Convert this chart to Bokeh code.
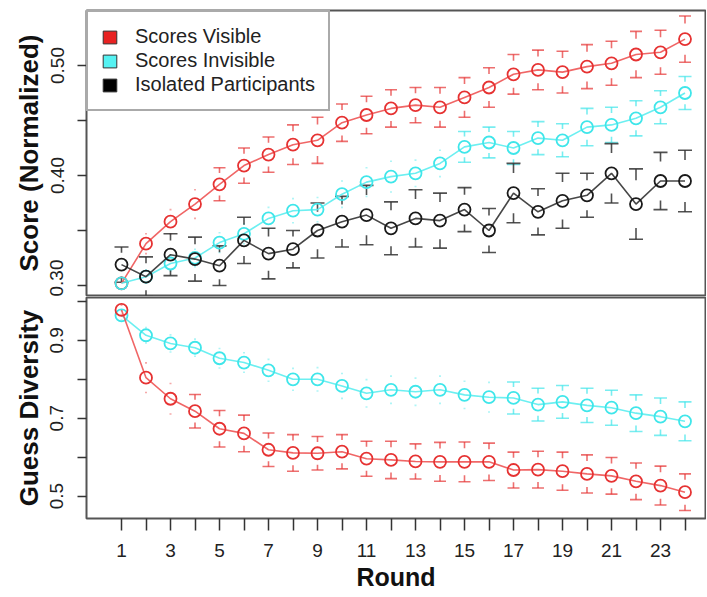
import math
from bokeh.plotting import figure
from bokeh.models import FixedTicker, Legend, LegendItem, Range1d
from bokeh.layouts import column
from bokeh.embed import file_html
from bokeh.resources import INLINE

# ---------------- data ----------------
rounds = list(range(1, 25))

score_visible = [0.302, 0.338, 0.358, 0.374, 0.392, 0.409, 0.419, 0.428, 0.432, 0.448, 0.455, 0.461,
                 0.464, 0.462, 0.471, 0.480, 0.492, 0.496, 0.494, 0.499, 0.502, 0.510, 0.512, 0.524]
score_visible_se = [0.005, 0.009, 0.011, 0.013, 0.015, 0.016, 0.016, 0.018, 0.021, 0.017, 0.017, 0.017,
                    0.016, 0.018, 0.018, 0.018, 0.018, 0.018, 0.019, 0.020, 0.020, 0.021, 0.020, 0.021]

score_invisible = [0.302, 0.308, 0.320, 0.325, 0.339, 0.347, 0.361, 0.368, 0.369, 0.383, 0.394, 0.399,
                   0.402, 0.411, 0.426, 0.430, 0.425, 0.434, 0.432, 0.444, 0.446, 0.452, 0.462, 0.475]
score_invisible_se = [0.005, 0.006, 0.007, 0.008, 0.009, 0.009, 0.010, 0.011, 0.011, 0.012, 0.013, 0.014,
                      0.012, 0.012, 0.014, 0.014, 0.015, 0.015, 0.015, 0.017, 0.016, 0.016, 0.015, 0.015]

score_isolated = [0.319, 0.308, 0.328, 0.324, 0.318, 0.341, 0.329, 0.333, 0.350, 0.358, 0.364, 0.352,
                  0.361, 0.359, 0.369, 0.350, 0.384, 0.367, 0.377, 0.382, 0.402, 0.374, 0.395, 0.395]
score_isolated_se = [0.016, 0.018, 0.019, 0.020, 0.018, 0.021, 0.023, 0.017, 0.025, 0.023, 0.027, 0.024,
                     0.026, 0.025, 0.020, 0.020, 0.027, 0.021, 0.025, 0.020, 0.027, 0.032, 0.026, 0.028]

div_visible = [0.978, 0.804, 0.750, 0.718, 0.673, 0.661, 0.619, 0.611, 0.610, 0.614, 0.596, 0.593,
               0.589, 0.588, 0.588, 0.588, 0.567, 0.568, 0.564, 0.557, 0.552, 0.538, 0.527, 0.510]
div_visible_se = [0.012, 0.038, 0.039, 0.043, 0.047, 0.047, 0.043, 0.047, 0.043, 0.044, 0.045, 0.048,
                  0.045, 0.050, 0.051, 0.048, 0.046, 0.047, 0.049, 0.049, 0.047, 0.047, 0.050, 0.047]

div_invisible = [0.964, 0.913, 0.892, 0.881, 0.854, 0.843, 0.823, 0.800, 0.800, 0.783, 0.764, 0.773,
                 0.768, 0.773, 0.760, 0.754, 0.752, 0.735, 0.742, 0.733, 0.727, 0.713, 0.704, 0.692]
div_invisible_se = [0.012, 0.020, 0.022, 0.022, 0.025, 0.025, 0.028, 0.028, 0.030, 0.032, 0.035, 0.035,
                    0.035, 0.035, 0.035, 0.038, 0.041, 0.042, 0.042, 0.044, 0.045, 0.047, 0.048, 0.050]

series_names = ["Scores Visible", "Scores Invisible", "Isolated Participants"]

score_ticks = [0.30, 0.35, 0.40, 0.45, 0.50]
score_labels = {0.3: "0.30", 0.35: "", 0.4: "0.40", 0.45: "", 0.5: "0.50"}
div_ticks = [0.5, 0.6, 0.7, 0.8, 0.9, 1]
div_labels = {0.5: "0.5", 0.6: "", 0.7: "0.7", 0.8: "", 0.9: "0.9", 1: ""}
round_labels = {r: (str(r) if r % 2 == 1 else "") for r in rounds}

# ---------------- style ----------------
RED = "#E63232"
RED_LINE = "#EE5555"
CYAN = "#3FE6EA"
CYAN_LINE = "#5CEDEF"
BLACK = "#1a1a1a"
FONT = "Liberation Sans"
PX_PER_ROUND = 24.5
W = 706
FRAME_W = 619
LEFT = 86

x_start = 1 - 35 / PX_PER_ROUND
x_range = Range1d(x_start, x_start + FRAME_W / PX_PER_ROUND)


def style(p):
    p.outline_line_color = "#555555"
    p.outline_line_width = 2
    p.xgrid.visible = False
    p.ygrid.visible = False
    p.background_fill_color = "white"
    p.border_fill_color = "white"
    for ax in p.yaxis:
        ax.axis_line_color = None
        ax.major_tick_line_color = "#333333"
        ax.major_tick_line_width = 1.5
        ax.major_tick_out = 9
        ax.major_tick_in = 0
        ax.minor_tick_line_color = None
        ax.major_label_orientation = "vertical"
        ax.major_label_text_font = FONT
        ax.major_label_text_font_size = "19px"
        ax.major_label_text_color = "#222222"
        ax.major_label_standoff = 14
        ax.axis_label_text_font = FONT
        ax.axis_label_text_font_size = "26px"
        ax.axis_label_text_font_style = "bold"
        ax.axis_label_text_color = "#111111"
        ax.axis_label_standoff = 4


def errbars(p, xs, ys, es, color, alpha, cap_px, faint_n, stem_frac=0.32):
    cx0, cx1, cy = [], [], []
    fx0, fx1, fy = [], [], []
    sx, sy0, sy1 = [], [], []
    for i, (x, y, e) in enumerate(zip(xs, ys, es)):
        faint = i < faint_n
        for sgn in (1, -1):
            yy = y + sgn * e
            if faint:
                hw = 1.0 / PX_PER_ROUND
                fx0.append(x - hw); fx1.append(x + hw); fy.append(yy)
            else:
                hw = cap_px / 2 / PX_PER_ROUND
                cx0.append(x - hw); cx1.append(x + hw); cy.append(yy)
                sx.append(x); sy0.append(yy); sy1.append(yy - sgn * e * stem_frac)
    if cx0:
        p.segment(x0=cx0, y0=cy, x1=cx1, y1=cy, line_color=color, line_alpha=alpha, line_width=1.6)
        p.segment(x0=sx, y0=sy0, x1=sx, y1=sy1, line_color=color, line_alpha=alpha, line_width=1.6)
    if fx0:
        p.segment(x0=fx0, y0=fy, x1=fx1, y1=fy, line_color=color, line_alpha=alpha * 0.6, line_width=1.6)


def series(p, xs, ys, line_color, pt_color):
    p.line(xs, ys, line_color=line_color, line_width=1.6, line_alpha=0.9)
    p.scatter(xs, ys, marker="circle", size=12, fill_color=None, line_color=pt_color, line_width=1.8)


# ---------------- top panel ----------------
top = figure(width=W, height=296, x_range=x_range, y_range=Range1d(0.30 - 10 / 1100, 0.55),
             output_backend="svg", toolbar_location=None,
             min_border_left=LEFT, min_border_right=W - LEFT - FRAME_W, min_border_top=10, min_border_bottom=1)
style(top)
top.xaxis.visible = False
top.yaxis.ticker = FixedTicker(ticks=score_ticks)
top.yaxis.major_label_overrides = score_labels
top.yaxis.axis_label = "Score (Normalized)"

errbars(top, rounds, score_visible, score_visible_se, RED, 0.7, 12, 4)
errbars(top, rounds, score_invisible, score_invisible_se, CYAN, 0.7, 13, 14)
errbars(top, rounds, score_isolated, score_isolated_se, "#333333", 0.85, 14, 0)
series(top, rounds, score_visible, RED_LINE, RED)
series(top, rounds, score_invisible, CYAN_LINE, CYAN)
series(top, rounds, score_isolated, "#333333", BLACK)

# legend swatches (one NaN row each, so nothing is drawn in the plot area)
nan = float("nan")
swatch_colors = ["#E82222", "#55F2F2", "#000000"]
items = []
for name, col in zip(series_names, swatch_colors):
    r = top.quad(left=[nan], right=[nan], top=[nan], bottom=[nan], fill_color=col, line_color="#333333")
    items.append(LegendItem(label=name, renderers=[r]))
legend = Legend(items=items,
                location="top_left", margin=0, padding=13, spacing=1,
                glyph_width=17, glyph_height=16, label_height=22, label_standoff=17,
                label_text_font=FONT, label_text_font_size="20px", label_text_color="#222222",
                border_line_color="#555555", border_line_width=2,
                background_fill_color="white", background_fill_alpha=1.0)
top.add_layout(legend)

# ---------------- bottom panel ----------------
bot = figure(width=W, height=297, x_range=x_range, y_range=Range1d(0.5 - 23 / 400, 1.0 + 4 / 400),
             output_backend="svg", toolbar_location=None,
             min_border_left=LEFT, min_border_right=W - LEFT - FRAME_W, min_border_top=1, min_border_bottom=72)
style(bot)
bot.yaxis.ticker = FixedTicker(ticks=div_ticks)
bot.yaxis.major_label_overrides = div_labels
bot.yaxis.axis_label = "Guess Diversity"
xa = bot.xaxis[0]
xa.ticker = FixedTicker(ticks=rounds)
xa.major_label_overrides = round_labels
xa.axis_line_color = None
xa.major_tick_line_color = "#333333"
xa.major_tick_line_width = 1.5
xa.major_tick_out = 12
xa.major_tick_in = 0
xa.minor_tick_line_color = None
xa.major_label_text_font = FONT
xa.major_label_text_font_size = "19px"
xa.major_label_text_color = "#222222"
xa.major_label_standoff = 13
xa.axis_label = "Round"
xa.axis_label_text_font = FONT
xa.axis_label_text_font_size = "25px"
xa.axis_label_text_font_style = "bold"
xa.axis_label_text_color = "#111111"
xa.axis_label_standoff = 3

errbars(bot, rounds, div_invisible, div_invisible_se, CYAN, 0.7, 13, 16)
errbars(bot, rounds, div_visible, div_visible_se, RED, 0.7, 12, 3)
series(bot, rounds, div_invisible, CYAN_LINE, CYAN)
series(bot, rounds, div_visible, RED_LINE, RED)

layout = column(top, bot, spacing=0)
open("out.html", "w").write(file_html(layout, INLINE))
